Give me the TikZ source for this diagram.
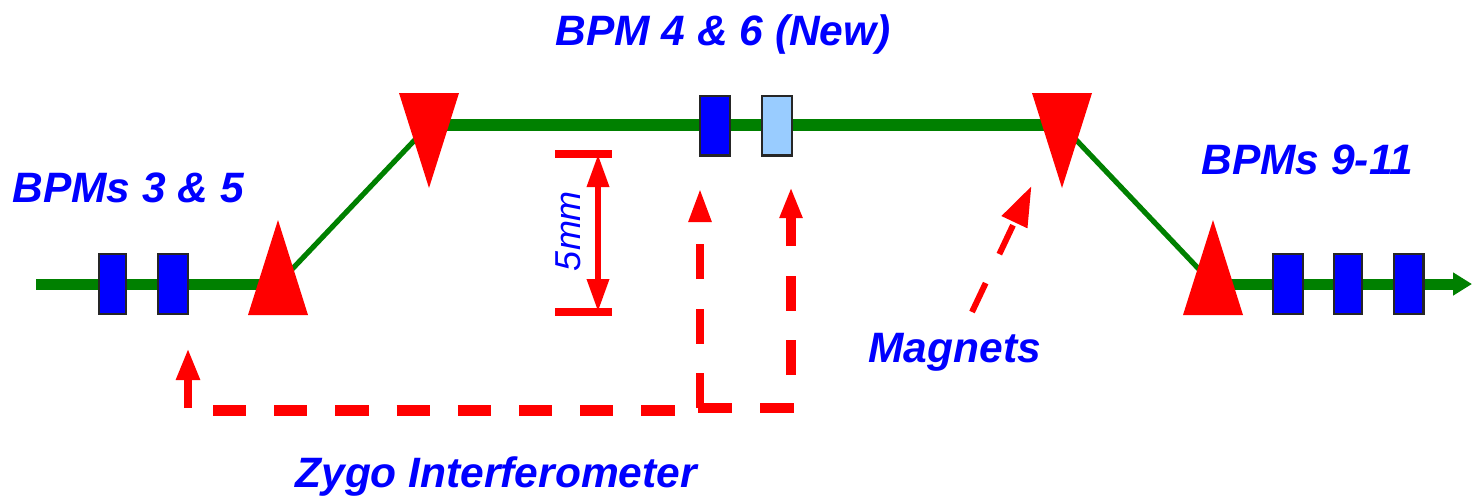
\documentclass[tikz,border=0pt]{standalone}
\usepackage{fontspec}
\setmainfont{Liberation Sans}
\usetikzlibrary{shapes.geometric,arrows.meta,backgrounds}
\definecolor{beam}{RGB}{0,128,0}
\definecolor{newbpm}{RGB}{153,204,255}
\tikzset{
 bpm/.style={draw=black!85,line width=1.2pt,fill=blue,minimum width=14.8pt,minimum height=29.8pt,inner sep=0pt,outer sep=0pt},
 newb/.style={bpm,fill=newbpm},
 magup/.style={isosceles triangle,isosceles triangle stretches,fill=red,inner sep=0pt,outer sep=0pt,minimum width=30pt,minimum height=47.5pt,shape border rotate=90,anchor=apex},
 magdown/.style={magup,shape border rotate=-90},
 lbl/.style={text=blue,font=\fontsize{21.25}{21.25}\selectfont\bfseries\itshape,anchor=base west,inner sep=0pt},
 thickbeam/.style={beam,line width=5.5pt},
 thinbeam/.style={beam,line width=2.6pt},
}
\begin{document}
\begin{tikzpicture}[x=.5pt,y=-.5pt]
\useasboundingbox (0,0) rectangle (1472,495);
% beam points
\coordinate (start) at (36,284);
\coordinate (pa) at (278,284);
\coordinate (pb) at (429,125);
\coordinate (pc) at (1062,125);
\coordinate (pd) at (1213,284);
\coordinate (end) at (1472,284);
% magnets
\node[magup] (m1) at (278,220) {};
\node[magdown] (m2) at (429,188) {};
\node[magdown] (m3) at (1062,188) {};
\node[magup] (m4) at (1213,220) {};
% BPMs
\node[bpm,minimum width=13.4pt] (b1) at (112.5,284) {};
\node[bpm] (b2) at (173,284) {};
\node[bpm] (b3) at (715,125.5) {};
\node[newb] (b4) at (777,125.5) {};
\node[bpm] (b5) at (1288,284) {};
\node[bpm,minimum width=13.8pt] (b6) at (1348,284) {};
\node[bpm] (b7) at (1408.5,284) {};
\begin{scope}[on background layer]
\draw[thickbeam] (start) -- (pa);
\draw[thinbeam] (pa) -- (pb);
\draw[line width=6pt,beam] (pb) -- (pc);
\draw[thinbeam] (pc) -- (pd);
\draw[thickbeam,-{Triangle[length=9.5pt,width=11pt]}] (pd) -- (end);
\end{scope}
% labels
\node[lbl] (t1) at (555,45) {BPM 4 \& 6 (New)};
\node[lbl] (t2) at (12,202) {BPMs 3 \& 5};
\node[lbl] (t3) at (1201,174) {BPMs 9-11};
\node[lbl] (t4) at (868,362) {Magnets};
\node[lbl] (t5) at (295,487) {Zygo Interferometer};
\node[lbl,font=\fontsize{18}{18}\selectfont\itshape,anchor=center,rotate=90] (t6) at (568,231) {5mm};
% 5 mm gauge
\coordinate (g1) at (598,154);
\coordinate (g2) at (598,312);
\coordinate (g1a) at (555,154);
\coordinate (g1b) at (612,154);
\coordinate (g2a) at (555,312);
\coordinate (g2b) at (612,312);
\draw[red,line width=4pt] (g1a) -- (g1b);
\draw[red,line width=4pt] (g2a) -- (g2b);
\draw[red,line width=3.2pt,{Triangle[length=16.5pt,width=10.5pt]}-{Triangle[length=16.5pt,width=10.5pt]}] (g1) -- (g2);
% Zygo paths
\coordinate (z1s) at (188,408);
\coordinate (z1e) at (188,348);
\coordinate (z2s) at (213,410);
\coordinate (z2e) at (676,410);
\coordinate (z3s) at (700,408);
\coordinate (z3e) at (700,188);
\coordinate (z4s) at (698,408);
\coordinate (z4e) at (795,408);
\coordinate (z5s) at (791,375);
\coordinate (z5e) at (791,187);
\draw[red,line width=4pt,-{Triangle[length=16pt,width=11pt]}] (z1s) -- (z1e);
\draw[red,line width=5.5pt,dash pattern=on 16.6pt off 14pt] (z2s) -- (z2e);
\draw[red,line width=4pt,dash pattern=on 17.5pt off 14.7pt,-{Triangle[length=17pt,width=10.5pt]}] (z3s) -- (z3e);
\draw[red,line width=5.2pt,dash pattern=on 17pt off 14pt] (z4s) -- (z4e);
\draw[red,line width=5pt,dash pattern=on 17.5pt off 14.7pt,-{Triangle[length=15.5pt,width=10.5pt]}] (z5s) -- (z5e);
% Magnets pointer
\coordinate (p1) at (972,312);
\coordinate (p2) at (1031.5,186);
\draw[red,line width=3pt,dash pattern=on 16pt off 16pt,-{Triangle[length=20pt,width=13.5pt]}] (p1) -- (p2);
\end{tikzpicture}
\end{document}
